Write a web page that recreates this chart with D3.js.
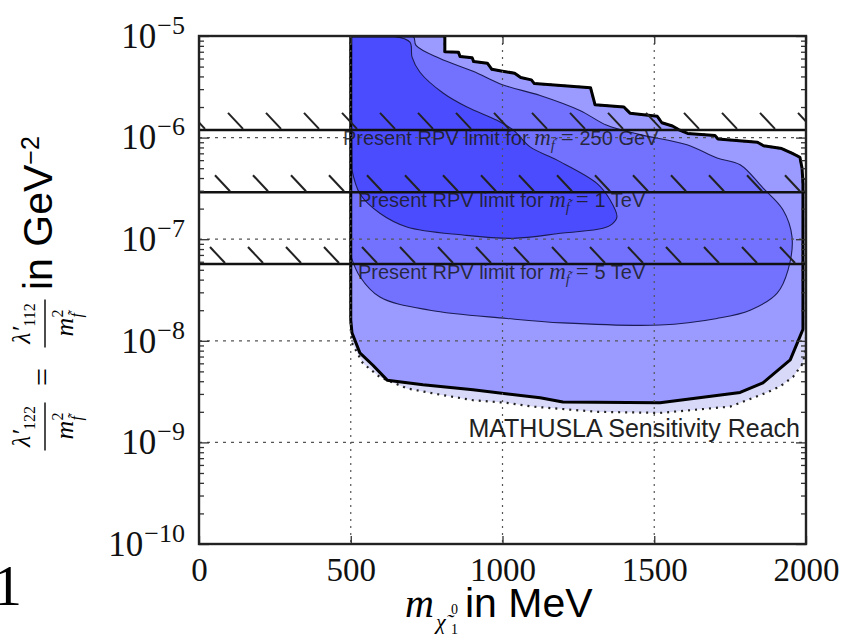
<!DOCTYPE html>
<html>
<head>
<meta charset="utf-8">
<script src="https://cdn.jsdelivr.net/npm/d3@7"></script>
<style>
  body { margin: 0; background: #fff; }
  svg text { font-family: "Liberation Serif", "Times New Roman", serif; }
  svg .sans { font-family: "Liberation Sans", Arial, sans-serif; }
</style>
</head>
<body>
<svg id="chart" width="853" height="636"></svg>
<script>
// axis ticks
var massTicks = [0, 500, 1000, 1500, 2000];
var couplingTicks = [1e-10, 1e-9, 1e-8, 1e-7, 1e-6, 1e-5];
var tickExponents = ["\u221210", "\u22129", "\u22128", "\u22127", "\u22126", "\u22125"];

// present RPV limits (horizontal hatched lines)
var rpvLimits = [1.19e-6, 2.9e-7, 5.7e-8];
var rpvMasses = ["250 GeV", "1 TeV", "5 TeV"];

// sensitivity contours: [neutralino mass in MeV, coupling in GeV^-2]
var stairTop = [[810,1e-5],[810,7.0e-6],[855,6.9e-6],[860,6.3e-6],[900,6.1e-6],[905,5.6e-6],[950,5.4e-6],
  [965,4.7e-6],[1000,4.5e-6],[1040,4.3e-6],[1060,3.9e-6],[1095,3.7e-6],[1105,3.4e-6],[1290,3.1e-6],
  [1305,2.1e-6],[1400,2.0e-6],[1420,1.74e-6],[1510,1.62e-6],[1525,1.4e-6],[1560,1.3e-6],[1580,1.2e-6],
  [1610,1.1e-6],[1700,1.05e-6],[1710,9.7e-7],[1840,9.0e-7],[1860,8.3e-7],[1920,7.8e-7],[1955,7.0e-7],
  [1980,6.4e-7],[1987,5.0e-7],[1990,3.5e-7]];
var outerEdge = [[1990,1.3e-8],[1980,1.1e-8],[1948,6.5e-9],[1858,3.85e-9],[1783,3.1e-9],[1519,2.45e-9],
  [1199,2.5e-9],[1124,2.75e-9],[903,3.3e-9],[738,3.7e-9],[620,4.1e-9],[573,5.75e-9],[530,7.6e-9],
  [504,1.2e-8],[500,1.6e-8],[500,1e-5]];
var dottedEdge = [[2000,4.0e-7],[2000,8.9e-9],[1990,6.0e-9],[1957,4.4e-9],[1914,3.55e-9],[1871,3.1e-9],
  [1826,2.75e-9],[1750,2.25e-9],[1519,1.95e-9],[1311,2.0e-9],[1100,2.25e-9],[1015,2.45e-9],[903,2.6e-9],
  [794,2.95e-9],[685,3.4e-9],[596,4.4e-9],[540,6.0e-9],[504,9.5e-9],[500,1.3e-8],[500,1e-5]];
var midRegion = [[500,1e-5],[705,1e-5],[715,8.1e-6],[794,6.0e-6],[903,4.5e-6],[1002,3.3e-6],[1124,2.6e-6],
  [1255,1.85e-6],[1344,1.32e-6],[1453,1.07e-6],[1608,8.5e-7],[1707,6.3e-7],[1783,5.4e-7],[1858,3.2e-7],
  [1924,1.95e-7],[1954,1.05e-7],[1941,5.0e-8],[1905,2.95e-8],[1816,2.0e-8],[1707,1.66e-8],[1519,1.43e-8],
  [1199,1.5e-8],[1015,1.66e-8],[761,2.0e-8],[596,2.7e-8],[530,4.3e-8],[500,6.9e-8]];
var darkRegion = [[500,1e-5],[639,1e-5],[695,8.7e-6],[702,6.2e-6],[728,4.4e-6],[804,2.75e-6],[883,2.0e-6],
  [982,1.48e-6],[1035,1.19e-6],[1091,8.1e-7],[1180,6.0e-7],[1311,3.55e-7],[1354,2.45e-7],[1377,1.66e-7],
  [1360,1.4e-7],[1331,1.28e-7],[1199,1.15e-7],[1035,1.02e-7],[870,1.1e-7],[685,1.32e-7],[596,1.8e-7],
  [530,2.8e-7],[504,4.8e-7]];

var plotLeft = 199, plotRight = 806, plotTop = 36, plotBottom = 544;
var svg = d3.select("#chart");

var x = d3.scaleLinear().domain([0, 2000]).range([plotLeft, plotRight]);
var y = d3.scaleLog().domain([1e-10, 1e-5]).range([plotBottom, plotTop]);

svg.append("clipPath").attr("id", "plotClip").append("rect")
  .attr("x", plotLeft).attr("y", plotTop).attr("width", plotRight - plotLeft).attr("height", plotBottom - plotTop);
var plot = svg.append("g").attr("clip-path", "url(#plotClip)");

var straight = d3.line().x(function(d){ return x(d[0]); }).y(function(d){ return y(d[1]); });
var smooth = d3.line().x(function(d){ return x(d[0]); }).y(function(d){ return y(d[1]); })
  .curve(d3.curveCatmullRom.alpha(0.5));

// filled regions
plot.append("path").attr("d", straight(stairTop.concat(dottedEdge)) + "Z")
  .attr("fill", "#d8d8f8");
plot.append("path").attr("d", straight(stairTop.concat(outerEdge)) + "Z")
  .attr("fill", "#9a9aff");
plot.append("path").attr("d", smooth(midRegion) + "Z")
  .attr("fill", "#7272ff").attr("stroke", "#1c1c55").attr("stroke-width", 1.1);
plot.append("path").attr("d", smooth(darkRegion) + "Z")
  .attr("fill", "#4c4cff").attr("stroke", "#1c1c55").attr("stroke-width", 1.1);
plot.append("path").attr("d", straight(stairTop.concat(dottedEdge)) + "Z")
  .attr("fill", "none").attr("stroke", "#222").attr("stroke-width", 2.2)
  .attr("stroke-dasharray", "2,5");
plot.append("path").attr("d", straight(stairTop.concat(outerEdge)) + "Z")
  .attr("fill", "none").attr("stroke", "#000").attr("stroke-width", 3)
  .attr("stroke-linejoin", "round");

// dotted grid
plot.selectAll(".gx").data(massTicks.slice(1, -1)).enter().append("line")
  .attr("x1", function(d){ return x(d); }).attr("x2", function(d){ return x(d); })
  .attr("y1", plotTop).attr("y2", plotBottom)
  .attr("stroke", "#555").attr("stroke-width", 1.2).attr("stroke-dasharray", "2,5");
plot.selectAll(".gy").data(couplingTicks.slice(1, -1)).enter().append("line")
  .attr("x1", plotLeft).attr("x2", plotRight)
  .attr("y1", function(d){ return y(d); }).attr("y2", function(d){ return y(d); })
  .attr("stroke", "#555").attr("stroke-width", 1.2).attr("stroke-dasharray", "3,5");

// RPV limit lines with hatching
var hatchPhase = [205, 192, 187], hatchStep = 38;
rpvLimits.forEach(function(v, i){
  var yl = y(v);
  plot.append("line").attr("x1", plotLeft).attr("x2", plotRight).attr("y1", yl).attr("y2", yl)
    .attr("stroke", "#111").attr("stroke-width", 2.5);
  for (var xe = hatchPhase[i]; xe < plotRight + 16; xe += hatchStep) {
    plot.append("line").attr("x1", xe - 15).attr("y1", yl - 17).attr("x2", xe).attr("y2", yl - 1)
      .attr("stroke", "#222").attr("stroke-width", 2);
  }
});

// labels on the limit lines
var labelX = [343, 358, 358];
rpvLimits.forEach(function(v, i){
  var t = svg.append("text").attr("x", labelX[i]).attr("y", y(v) + 15)
    .attr("fill", "#1a1a1a").attr("fill-opacity", 0.85).attr("font-size", 20);
  t.append("tspan").attr("class", "sans").text("Present RPV limit for ");
  t.append("tspan").attr("font-style", "italic").attr("font-size", 23).text("m");
  t.append("tspan").attr("font-style", "italic").attr("font-size", 15).attr("dy", 5).text("f\u0303");
  t.append("tspan").attr("dy", -5).attr("font-size", 23).text(" = ");
  t.append("tspan").attr("class", "sans").text(rpvMasses[i]);
});

svg.append("text").attr("class", "sans").attr("x", 800).attr("y", 437)
  .attr("text-anchor", "end").attr("font-size", 25).attr("fill", "#222")
  .text("MATHUSLA Sensitivity Reach");

// axes
var minor = y.ticks().filter(function(d){ return couplingTicks.indexOf(d) < 0; });

var yAxis = svg.append("g").attr("transform", "translate(" + plotLeft + ",0)")
  .call(d3.axisLeft(y).tickValues(couplingTicks).tickSize(-10).tickPadding(14));
svg.append("g").attr("transform", "translate(" + plotLeft + ",0)")
  .call(d3.axisLeft(y).tickValues(minor).tickSize(-5).tickFormat(""));
svg.append("g").attr("transform", "translate(" + plotRight + ",0)")
  .call(d3.axisRight(y).tickValues(couplingTicks).tickSize(-10).tickFormat(""));
svg.append("g").attr("transform", "translate(" + plotRight + ",0)")
  .call(d3.axisRight(y).tickValues(minor).tickSize(-5).tickFormat(""));
var xAxis = svg.append("g").attr("transform", "translate(0," + plotBottom + ")")
  .call(d3.axisBottom(x).tickValues(massTicks).tickSize(-8).tickPadding(14).tickFormat(d3.format("d")));
svg.append("g").attr("transform", "translate(0," + plotTop + ")")
  .call(d3.axisTop(x).tickValues(massTicks).tickSize(-8).tickFormat(""));

svg.selectAll(".domain").remove();
svg.selectAll(".tick line").attr("stroke", "#333").attr("stroke-width", 1.3);

xAxis.selectAll("text").attr("font-size", 33).attr("fill", "#111")
  .attr("font-family", "Liberation Serif, serif");

yAxis.selectAll("text").each(function(d, i){
  var t = d3.select(this).text("").attr("font-size", 35).attr("fill", "#111")
    .attr("font-family", "Liberation Serif, serif");
  t.append("tspan").text("10");
  t.append("tspan").attr("font-size", 26).attr("dx", 1).attr("dy", -14).text(tickExponents[i]);
});

svg.append("rect").attr("x", plotLeft).attr("y", plotTop)
  .attr("width", plotRight - plotLeft).attr("height", plotBottom - plotTop)
  .attr("fill", "none").attr("stroke", "#222").attr("stroke-width", 2.4);

// x axis title
svg.append("text").attr("x", 405).attr("y", 617).attr("font-size", 40).attr("font-style", "italic").text("m");
svg.append("text").attr("x", 436).attr("y", 629).attr("font-size", 22).attr("font-style", "italic").text("\u03c7\u0303");
svg.append("text").attr("x", 451).attr("y", 614).attr("font-size", 14).text("0");
svg.append("text").attr("x", 451).attr("y", 634).attr("font-size", 14).text("1");
svg.append("text").attr("class", "sans").attr("x", 465).attr("y", 617).attr("font-size", 41).text("in MeV");

// y axis title (rotated)
var yt = svg.append("g").attr("transform", "translate(52,450) rotate(-90)");
function fraction(g, cx, sub) {
  var n = g.append("text").attr("x", cx).attr("y", -22).attr("text-anchor", "middle")
    .attr("font-size", 26).attr("font-style", "italic");
  n.append("tspan").text("\u03bb\u2032");
  n.append("tspan").attr("font-size", 16).attr("font-style", "normal").attr("dy", 5).text(sub);
  g.append("line").attr("x1", cx - 24).attr("x2", cx + 24).attr("y1", -7).attr("y2", -7)
    .attr("stroke", "#000").attr("stroke-width", 1.4);
  g.append("text").attr("x", cx - 13).attr("y", 21).attr("font-size", 26).attr("font-style", "italic").text("m");
  g.append("text").attr("x", cx + 6).attr("y", 11).attr("font-size", 16).text("2");
  g.append("text").attr("x", cx + 6).attr("y", 30).attr("font-size", 16).attr("font-style", "italic").text("f\u0303");
}
fraction(yt, 23.5, "122");
yt.append("text").attr("x", 73).attr("y", 1).attr("text-anchor", "middle").attr("font-size", 32).text("=");
fraction(yt, 126.5, "112");
var gev = yt.append("text").attr("class", "sans").attr("x", 160).attr("y", 0).attr("font-size", 41);
gev.append("tspan").text("in GeV");
gev.append("tspan").attr("font-size", 25).attr("dy", -13).text("\u22122");

// stray page number at bottom left
svg.append("text").attr("x", -7).attr("y", 605).attr("font-size", 58).text("1");
</script>
</body>
</html>
